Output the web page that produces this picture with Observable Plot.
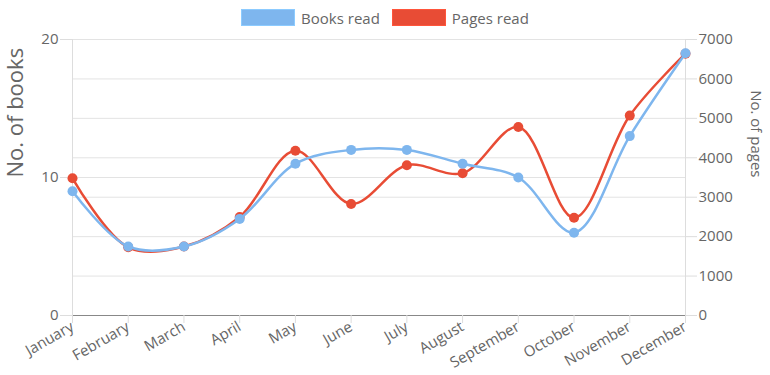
<!DOCTYPE html>
<html>
<head>
<meta charset="utf-8">
<script src="https://cdn.jsdelivr.net/npm/d3@7"></script>
<script src="https://cdn.jsdelivr.net/npm/@observablehq/plot@0.6"></script>
<style>
  body { margin: 0; background: #fff; font-family: "Open Sans", sans-serif; }
  #legend { height: 26px; display: flex; justify-content: center; align-items: flex-start; color: #666; font-size: 15px; }
  .item { display: flex; align-items: center; margin: 9px 6px 0 6px; height: 17px; }
  .sw { width: 54px; height: 17px; margin-right: 6px; box-sizing: border-box; }
  #chart svg { display: block; }
</style>
</head>
<body>
<div id="legend"></div>
<div id="chart"></div>
<script>
const months = ["January","February","March","April","May","June","July","August","September","October","November","December"];
const booksRead = [9, 5, 5, 7, 11, 12, 12, 11, 10, 6, 13, 19];
const pagesRead = [3480, 1730, 1750, 2500, 4180, 2830, 3810, 3610, 4780, 2480, 5070, 6640];
const leftTicks = [0, 10, 20];
const rightTicks = [0, 1000, 2000, 3000, 4000, 5000, 6000, 7000];
const seriesNames = ["Books read", "Pages read"];
const seriesColors = ["#7EB6EE", "#E84C35"];

const ratio = 7000 / 20; // pages per book unit on the shared scale
const data = months.map((m, i) => ({month: m, books: booksRead[i], pages: pagesRead[i]}));

const legend = document.getElementById("legend");
seriesNames.forEach((name, i) => {
  const it = document.createElement("div");
  it.className = "item";
  const sw = document.createElement("div");
  sw.className = "sw";
  sw.style.background = seriesColors[i];
  sw.style.border = "1px solid " + d3.color(seriesColors[i]).brighter(0.3);
  it.appendChild(sw);
  const t = document.createElement("span");
  t.textContent = name;
  it.appendChild(t);
  legend.appendChild(it);
});

const chart = Plot.plot({
  width: 770,
  height: 349,
  marginLeft: 72,
  marginRight: 85,
  marginTop: 13,
  marginBottom: 60,
  style: {fontFamily: "Open Sans, sans-serif", color: "#666", background: "#fff", overflow: "visible"},
  x: {type: "point", domain: months, padding: 0, round: false},
  y: {domain: [0, 20]},
  marks: [
    Plot.gridY(rightTicks.map(p => p / ratio).concat([10]), {stroke: "#e3e3e3", strokeOpacity: 1}),
    Plot.ruleX([months[0], months[months.length - 1]], {stroke: "#ddd"}),
    Plot.ruleY([0], {stroke: "#888"}),
    Plot.axisY(leftTicks, {anchor: "left", tickSize: 12, tickPadding: 2, fontSize: 15, stroke: "#ddd", fill: "#666", label: null}),
    Plot.axisY(rightTicks.map(p => p / ratio), {anchor: "right", tickSize: 11, tickPadding: 2, fontSize: 15, stroke: "#ddd", fill: "#666", tickFormat: d => String(Math.round(d * ratio)), label: null}),
    Plot.axisX(months, {anchor: "bottom", tickSize: 8, tickPadding: 2, tickRotate: -30, fontSize: 15, stroke: "#ddd", fill: "#666", label: null}),
    Plot.text(["No. of books"], {frameAnchor: "left", dx: -57, rotate: -90, fontSize: 22, fill: "#666"}),
    Plot.text(["No. of pages"], {frameAnchor: "right", dx: 70, rotate: 90, fontSize: 15, fill: "#666"}),
    Plot.line(data, {x: "month", y: d => d.pages / ratio, curve: "catmull-rom", stroke: seriesColors[1], strokeWidth: 2.5}),
    Plot.dot(data, {x: "month", y: d => d.pages / ratio, r: 5, fill: seriesColors[1]}),
    Plot.line(data, {x: "month", y: "books", curve: "catmull-rom", stroke: seriesColors[0], strokeWidth: 2.5}),
    Plot.dot(data, {x: "month", y: "books", r: 5, fill: seriesColors[0]})
  ]
});
document.getElementById("chart").appendChild(chart);
</script>
</body>
</html>
